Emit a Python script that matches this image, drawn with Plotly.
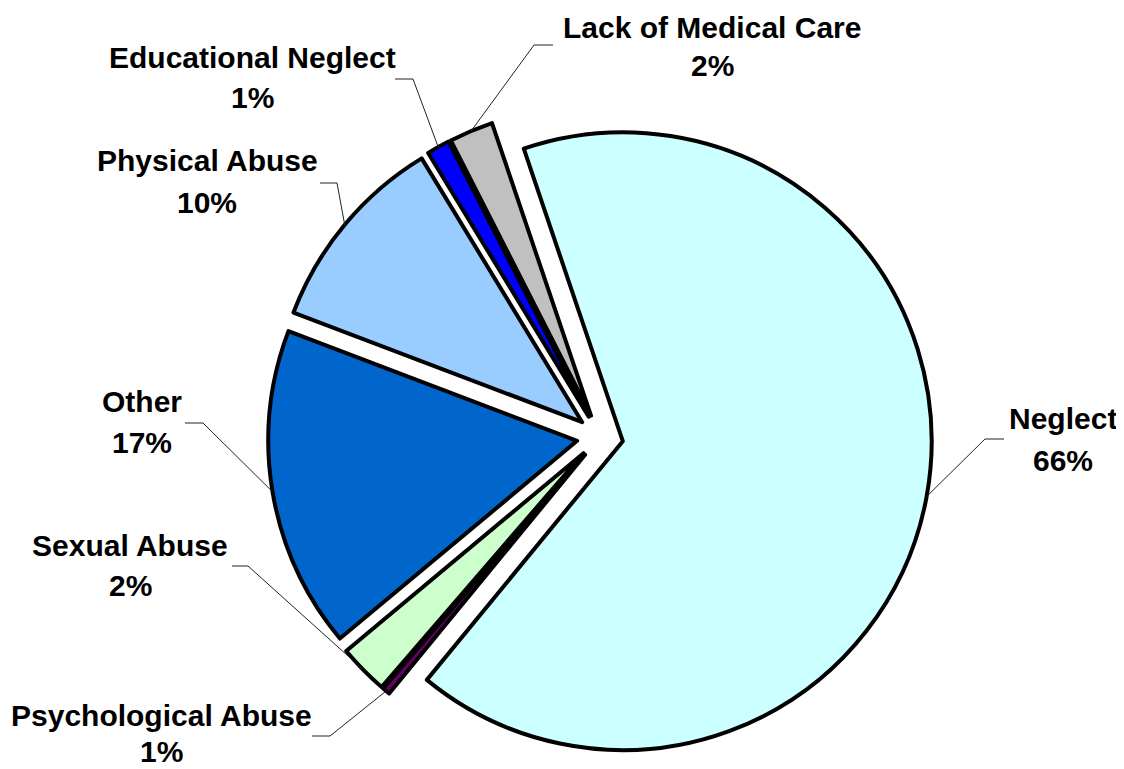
import math
import plotly.graph_objects as go

# ---- data ----
categories = ["Neglect", "Psychological Abuse", "Sexual Abuse", "Other",
              "Physical Abuse", "Educational Neglect", "Lack of Medical Care"]
values = [66.0, 0.4, 2.6, 16.8, 10.5, 1.2, 2.3]
pct_labels = ["66%", "1%", "2%", "17%", "10%", "1%", "2%"]

# ---- style ----
colors = ["#CCFFFF", "#660066", "#CCFFCC", "#0066CC", "#99CCFF", "#0000FF", "#C0C0C0"]
pull = 0.075
rotation = 341.3

OFF = 8                      # page body margin
W, H = 1124 - OFF, 769 - OFF  # figure size so it fits the window

# pie box in screen pixels
pie_cx, pie_top, pie_bottom = 600, 105, 769
half = (pie_bottom - pie_top) / 2
dom_x = [(pie_cx - OFF - half) / W, (pie_cx - OFF + half) / W]
dom_y = [1 - (pie_bottom - OFF) / H, 1 - (pie_top - OFF) / H]
dom_y = [max(0.0, dom_y[0]), min(1.0, dom_y[1])]

# label layout in screen pixels: (text_x, name_y, pct_y, line_end_x, elbow_x, line_y)
label_layout = [
    (1063, 418, 460, 1004, 985, 439),
    (161, 715, 751, 312, 330, 736),
    (130, 545, 585, 232, 248, 566),
    (142, 402, 442, 185, 203, 423),
    (207, 160, 202, 320, 337, 183),
    (252, 57, 98, 395, 413, 79),
    (712, 28, 66, 553, 534, 45),
]

fig = go.Figure(go.Pie(
    labels=categories,
    values=values,
    sort=False,
    direction="clockwise",
    rotation=rotation,
    pull=[pull] * len(values),
    marker=dict(colors=colors, line=dict(color="black", width=4)),
    textinfo="none",
    hoverinfo="label+percent",
    domain=dict(x=dom_x, y=dom_y),
    showlegend=False,
))

# geometry of the pie (same as plotly's own scaling), in figure pixels
box_w = W * (dom_x[1] - dom_x[0])
box_h = H * (dom_y[1] - dom_y[0])
r = min(box_w, box_h) / 2 / (1 + pull)
cx = W * (dom_x[0] + dom_x[1]) / 2
cy = H - H * (dom_y[0] + dom_y[1]) / 2

total = sum(values)
ang = rotation
shapes = []
annotations = []
font = dict(family="Liberation Sans, Arial, sans-serif", size=30, color="black", weight="bold")


def fig_to_paper(x, y):
    return x / W, 1 - y / H


def scr_to_paper(x, y):
    return fig_to_paper(x - OFF, y - OFF)


for i, v in enumerate(values):
    span = v / total * 360
    mid = math.radians(ang + span / 2)
    ang += span
    tx = cx + r * (1 + pull) * math.sin(mid)
    ty = cy - r * (1 + pull) * math.cos(mid)
    lx, ny, py, ex, bx, ly = label_layout[i]
    p1 = fig_to_paper(tx, ty)
    p2 = scr_to_paper(bx, ly)
    p3 = scr_to_paper(ex, ly)
    shapes.append(dict(type="path", xref="paper", yref="paper",
                       path=f"M {p1[0]} {p1[1]} L {p2[0]} {p2[1]} L {p3[0]} {p3[1]}",
                       line=dict(color="#222222", width=1)))
    for text, yy in ((categories[i], ny), (pct_labels[i], py)):
        ax_, ay_ = scr_to_paper(lx, yy)
        annotations.append(dict(text=text, x=ax_, y=ay_, xref="paper", yref="paper",
                                xanchor="center", yanchor="middle", showarrow=False,
                                font=font))

fig.update_layout(
    width=W, height=H,
    margin=dict(l=0, r=0, t=0, b=0),
    paper_bgcolor="white", plot_bgcolor="white",
    shapes=shapes, annotations=annotations,
)

fig.write_html("out.html")
